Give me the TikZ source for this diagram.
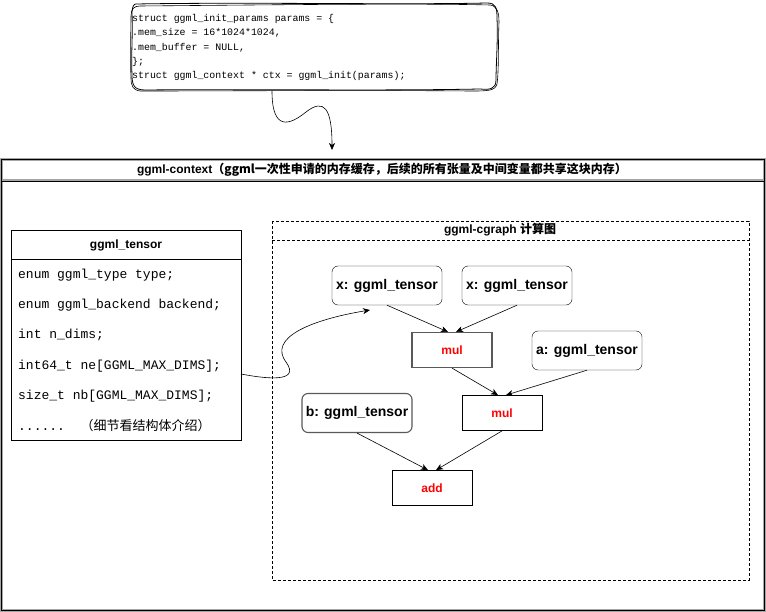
\documentclass[tikz,border=0pt]{standalone}
\usepackage{fontspec}
\setmainfont{Liberation Sans}
\setmonofont{Liberation Mono}
\newfontfamily\cjk{Noto Sans CJK SC}
\usetikzlibrary{arrows.meta}
\begin{document}
\begin{tikzpicture}[x=1pt,y=-1pt,
  tip/.style={-{Stealth[length=7pt,width=6pt,inset=2pt]}},
  opbox/.style={draw,minimum width=80pt,minimum height=35pt,inner sep=0pt,font=\fontsize{12}{14}\selectfont\bfseries,text=red},
  tbox/.style={draw,rounded corners=6pt,minimum width=110pt,minimum height=39pt,inner sep=0pt,font=\fontsize{14}{16}\selectfont\bfseries},
  link/.style={line width=0.6pt,tip}]
\useasboundingbox (0,0) rectangle (766,612);
\fill[white] (0,0) rectangle (766,612);

% top sketchy code box
\draw[line width=0.8pt] (136,4) .. controls (250,2) and (400,5) .. (487,3) .. controls (496,3) and (497,8) .. (497,18)
  .. controls (498,40) and (496,65) .. (496,80) .. controls (496,89) and (490,90) .. (480,89)
  .. controls (380,91) and (250,89) .. (145,90) .. controls (134,90) and (132,85) .. (132,75)
  .. controls (131,55) and (133,30) .. (132,14) .. controls (132,6) and (134,4) .. (136,4);
\draw[line width=0.6pt] (140,6) .. controls (260,5) and (410,3) .. (490,5) .. controls (497,6) and (499,12) .. (499,22)
  .. controls (498,45) and (499,70) .. (497,84) .. controls (495,91) and (488,91) .. (470,91)
  .. controls (360,90) and (230,91) .. (140,91) .. controls (133,90) and (131,86) .. (131,78)
  .. controls (130,55) and (131,30) .. (131,16) .. controls (131,9) and (134,6) .. (140,6);
\node[anchor=west,inner sep=0pt,align=left,font=\ttfamily\fontsize{9.9}{14.4}\selectfont] (code) at (132,47.5)
  {struct ggml\_init\_params params = \{\\.mem\_size = 16*1024*1024,\\.mem\_buffer = NULL,\\\};\\struct ggml\_context * ctx = ggml\_init(params);};
\coordinate (codeout) at (272,91);

% outer context box
\draw[gray!70,line width=3pt] (1.5,159.5) rectangle (764.5,610.5);
\draw[gray!70,line width=3pt] (1.5,181) -- (764.5,181);
\draw[line width=0.9pt] (1.5,159.5) rectangle (764.5,610.5);
\draw[line width=0.9pt] (1.5,181) -- (764.5,181);
\node[inner sep=0pt] (ctxtitle) at (382,170) {\fontsize{12}{14}\selectfont\bfseries ggml-context{\cjk （ggml一次性申请的内存缓存，后续的所有张量及中间变量都共享这块内存）}};
\coordinate (ctxin) at (332,150);
\draw[link] (codeout) .. controls (272,132) and (290,125) .. (306,112) .. controls (324,98) and (332,108) .. (ctxin);

% cgraph dashed box
\draw[dashed,line width=0.6pt,dash pattern=on 3pt off 2pt] (272,221) rectangle (749,580);
\draw[dashed,line width=0.6pt,dash pattern=on 3pt off 2pt] (272,240.5) -- (749,240.5);
\node[inner sep=0pt] (cgtitle) at (500,230) {\fontsize{12}{14}\selectfont\bfseries ggml-cgraph {\cjk 计算图}};

% tensor struct box
\node[draw,line width=0.8pt,minimum width=230pt,minimum height=210pt,inner sep=0pt] (tensor) at (126,335) {};
\draw[line width=0.8pt] (11,259.5) -- (241,259.5);
\node[inner sep=0pt] (thead) at (126,245) {\fontsize{12}{14}\selectfont\bfseries ggml\_tensor};
\node[anchor=west,inner sep=0pt,align=left,font=\ttfamily\fontsize{13}{30.4}\selectfont] (tfields) at (18,350)
  {enum ggml\_type type;\\enum ggml\_backend backend;\\int n\_dims;\\int64\_t ne[GGML\_MAX\_DIMS];\\size\_t nb[GGML\_MAX\_DIMS];\\......\ \ {\rmfamily\cjk （细节看结构体介绍）}};
\coordinate (tout) at (241,374);
\coordinate (tin) at (370,310);

% graph nodes
\node[tbox] (x1) at (387,285.5) {x: ggml\_tensor};
\node[tbox] (x2) at (517,285.5) {x: ggml\_tensor};
\node[opbox,draw=gray!70!black,line width=1.2pt] (mul1) at (452,350) {mul};
\node[tbox] (a) at (587,350.5) {a: ggml\_tensor};
\node[opbox,line width=0.8pt] (mul2) at (502,413) {mul};
\node[tbox,draw=gray!70!black,line width=1.1pt] (b) at (357,413) {b: ggml\_tensor};
\node[opbox,line width=0.8pt] (add) at (432,488) {add};

\draw[link] (x1.south) -- ([xshift=-4pt]mul1.north);
\draw[link] (x2.south) -- ([xshift=4pt]mul1.north);
\draw[link] (mul1.south) -- ([xshift=-4pt]mul2.north);
\draw[link] (a.south) -- ([xshift=4pt]mul2.north);
\draw[link] (b.south) -- ([xshift=-4pt]add.north);
\draw[link] (mul2.south) -- ([xshift=4pt]add.north);

\draw[link] (tout) .. controls (262,378) and (302,384) .. (286,362) .. controls (268,338) and (310,320) .. (tin);
\end{tikzpicture}
\end{document}
